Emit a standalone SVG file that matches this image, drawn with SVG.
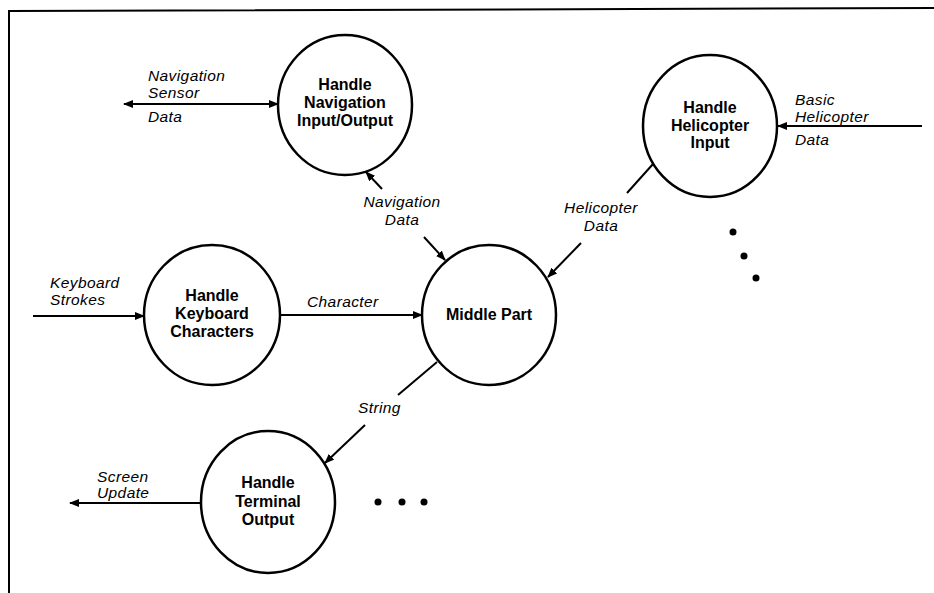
<svg xmlns="http://www.w3.org/2000/svg" width="934" height="593" viewBox="0 0 934 593">
  <style>
    .bubble { fill: #fff; stroke: #000; stroke-width: 2.5; }
    .name { font-family: "Liberation Sans", Arial, sans-serif; font-weight: bold; font-size: 16px; text-anchor: middle; fill: #000; }
    .flow { font-family: "Liberation Sans", Arial, sans-serif; font-style: italic; font-size: 15.5px; letter-spacing: 0.4px; fill: #000; }
    .mid { text-anchor: middle; }
    .line { stroke: #000; stroke-width: 2; fill: none; }
    .dot { fill: #000; }
  </style>
  <defs>
    <marker id="head" markerUnits="userSpaceOnUse" markerWidth="10" markerHeight="8" refX="9" refY="4" orient="auto-start-reverse">
      <path d="M0,0 L10,4 L0,8 Z" fill="#000"/>
    </marker>
  </defs>

  <rect width="934" height="593" fill="#fff"/>

  <!-- page frame -->
  <path class="line" d="M9,593 L9,11 L934,8"/>

  <!-- data flows -->
  <g id="connectors">
    <line class="line" x1="124" y1="104" x2="278" y2="104" marker-start="url(#head)" marker-end="url(#head)"/>
    <line class="line" x1="382" y1="189" x2="366" y2="172" marker-end="url(#head)"/>
    <line class="line" x1="424" y1="237" x2="445" y2="260" marker-end="url(#head)"/>
    <line class="line" x1="33" y1="316" x2="144" y2="316" marker-end="url(#head)"/>
    <line class="line" x1="280" y1="315" x2="422" y2="315" marker-end="url(#head)"/>
    <line class="line" x1="653" y1="164" x2="627" y2="193"/>
    <line class="line" x1="581" y1="243" x2="548" y2="277" marker-end="url(#head)"/>
    <line class="line" x1="922" y1="126" x2="778" y2="126" marker-end="url(#head)"/>
    <line class="line" x1="437" y1="362" x2="398" y2="395"/>
    <line class="line" x1="365" y1="425" x2="325" y2="463" marker-end="url(#head)"/>
    <line class="line" x1="201" y1="503" x2="70" y2="503" marker-end="url(#head)"/>

    <text class="flow" x="148" y="81">Navigation</text>
    <text class="flow" x="148" y="98">Sensor</text>
    <text class="flow" x="148" y="122">Data</text>
    <text class="flow mid" x="402" y="207">Navigation</text>
    <text class="flow mid" x="402" y="225">Data</text>
    <text class="flow" x="50" y="288">Keyboard</text>
    <text class="flow" x="50" y="305">Strokes</text>
    <text class="flow" x="307" y="307">Character</text>
    <text class="flow mid" x="601" y="213">Helicopter</text>
    <text class="flow mid" x="601" y="231">Data</text>
    <text class="flow" x="795" y="105">Basic</text>
    <text class="flow" x="795" y="122">Helicopter</text>
    <text class="flow" x="795" y="145">Data</text>
    <text class="flow" x="358" y="413">String</text>
    <text class="flow" x="97" y="482">Screen</text>
    <text class="flow" x="97" y="498">Update</text>
  </g>

  <g id="nav-io">
    <ellipse class="bubble" cx="345" cy="105" rx="67" ry="70"/>
    <text class="name" x="345" y="90">Handle</text>
    <text class="name" x="345" y="108">Navigation</text>
    <text class="name" x="345" y="126">Input/Output</text>
  </g>

  <g id="heli-input">
    <ellipse class="bubble" cx="710" cy="126" rx="67" ry="71"/>
    <text class="name" x="710" y="113">Handle</text>
    <text class="name" x="710" y="131">Helicopter</text>
    <text class="name" x="710" y="148">Input</text>
  </g>

  <g id="keyboard">
    <ellipse class="bubble" cx="212" cy="315" rx="68" ry="70"/>
    <text class="name" x="212" y="301">Handle</text>
    <text class="name" x="212" y="319">Keyboard</text>
    <text class="name" x="212" y="337">Characters</text>
  </g>

  <g id="middle">
    <ellipse class="bubble" cx="489" cy="315" rx="67" ry="70"/>
    <text class="name" x="489" y="320">Middle Part</text>
  </g>

  <g id="terminal">
    <ellipse class="bubble" cx="268" cy="502" rx="67" ry="71"/>
    <text class="name" x="268" y="488">Handle</text>
    <text class="name" x="268" y="507">Terminal</text>
    <text class="name" x="268" y="525">Output</text>
  </g>

  <!-- continuation marks -->
  <g id="more">
    <circle class="dot" cx="733" cy="232" r="3.5"/>
    <circle class="dot" cx="744" cy="256" r="3.5"/>
    <circle class="dot" cx="756" cy="278" r="3.5"/>
    <circle class="dot" cx="378" cy="502" r="3.5"/>
    <circle class="dot" cx="402" cy="502" r="3.5"/>
    <circle class="dot" cx="424" cy="502" r="3.5"/>
  </g>
</svg>
